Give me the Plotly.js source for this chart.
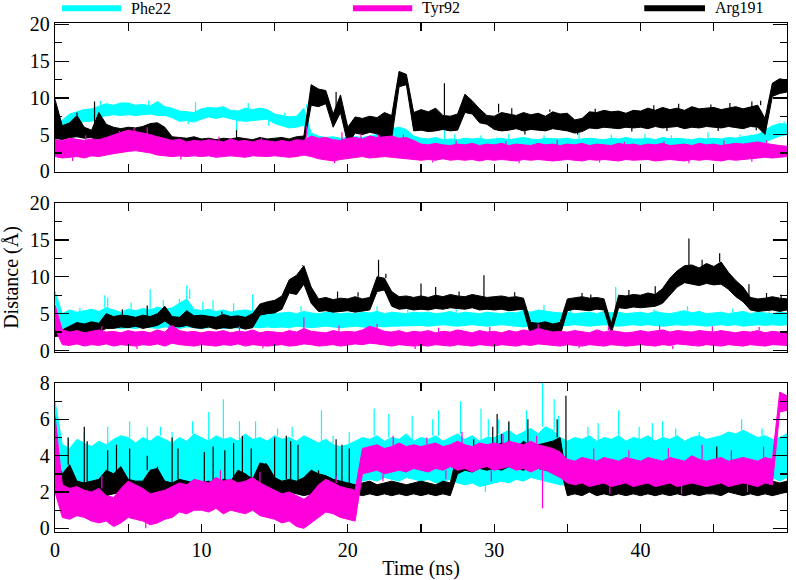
<!DOCTYPE html>
<html>
<head>
<meta charset="utf-8">
<script src="https://cdn.plot.ly/plotly-3.0.1.min.js"></script>
<style>html,body{margin:0;padding:0;background:#fff;}#chart{width:796px;height:580px;}</style>
</head>
<body>
<div id="chart"></div>
<script>
// ---- data: fluctuation envelope (low / high) every 0.5 ns, 0..50 ns, plus isolated spikes ----
var timeStep = 0.5;
var seriesNames = ["Phe22", "Tyr92", "Arg191"];
var xTickVals = [0, 5, 10, 15, 20, 25, 30, 35, 40, 45, 50];
var xTickText = ["0", "", "10", "", "20", "", "30", "", "40", "", "50"];

// ===== Panel 1 (top) =====
var p1_phe_lo = [4.2,5.0,6.0,6.4,6.8,6.8,7.4,7.6,7.7,7.6, 7.7,7.6,7.7,7.8,7.6,7.6,7.3,6.8,6.9,6.7,
 7.1,7.4,7.2,7.4,7.2,6.9,6.8,6.9,7.0,7.1, 6.5,6.2,5.9,6.0,6.3,3.9,3.6,3.5,3.4,3.5,
 3.4,3.5,3.4,3.6,3.7,3.8,3.9,4.2,4.1,3.4, 3.2,3.2,3.1,3.2,3.2,3.1,3.2,3.1,3.2,3.1,
 3.2,3.1,3.1,3.2,3.2,3.1,3.1,3.2,3.1,3.2, 3.1,3.1,3.2,3.1,3.2,3.1,3.2,3.2,3.1,3.1,
 3.2,3.1,3.2,3.1,3.2,3.2,3.1,3.2,3.1,3.2, 3.2,3.1,3.2,3.3,3.2,3.3,3.5,3.9,4.4,4.8, 5.0];
var p1_phe_hi = [5.8,7.0,7.8,8.1,8.4,8.5,8.8,9.2,9.0,9.3, 9.3,9.0,9.1,8.9,9.5,8.8,8.6,8.2,8.1,8.0,
 8.5,8.7,8.6,8.8,8.3,8.2,8.6,8.4,8.6,8.4, 7.8,7.6,7.4,7.5,8.6,5.2,4.8,4.6,4.7,4.5,
 4.6,4.7,4.6,4.8,5.0,5.2,5.8,6.0,5.7,4.8, 4.5,4.4,4.6,4.3,4.4,4.3,4.5,4.4,4.5,4.3,
 4.4,4.5,4.3,4.4,4.6,4.4,4.3,4.5,4.4,4.4, 4.5,4.3,4.4,4.5,4.4,4.3,4.5,4.4,4.6,4.4,
 4.4,4.5,4.3,4.6,4.4,4.5,4.4,4.3,4.5,4.4, 4.5,4.4,4.6,4.5,4.7,4.8,5.0,5.6,6.2,6.5, 6.4];
var p1_phe_spkT = [1.9,3.1,6.4,9.1,9.6,12.4,13.2,14.6,15.7,16.1,17.2,26.6,27.3,28.2,29.1,31.0,33.4,34.6,35.8,38.0,
 40.3,41.0,42.1,44.6,46.8,47.2,49.8];
var p1_phe_spkV = [8.4,9.6,9.6,6.4,9.4,5.6,9.3,6.2,8.0,5.9,9.2,6.4,5.0,3.0,4.9,5.1,4.9,2.9,5.2,5.0,
 5.1,3.0,4.9,5.3,5.0,3.1,6.8];

var p1_tyr_lo = [2.0,1.8,1.9,2.0,1.8,2.1,2.0,2.2,2.4,2.6, 2.7,2.8,2.6,2.5,2.2,2.1,2.0,2.1,2.0,2.1,
 2.0,2.1,1.9,2.0,2.1,2.0,1.9,2.1,2.0,2.0, 2.1,2.0,1.9,2.0,2.2,2.0,1.7,1.5,1.4,1.6,
 1.8,1.9,2.0,1.8,1.9,2.0,1.9,1.8,1.7,1.6, 1.5,1.6,1.5,1.7,1.5,1.6,1.5,1.6,1.4,1.6,
 1.5,1.6,1.5,1.4,1.6,1.5,1.6,1.5,1.4,1.5, 1.6,1.5,1.4,1.6,1.5,1.6,1.5,1.4,1.6,1.5,
 1.5,1.6,1.4,1.5,1.6,1.5,1.4,1.6,1.5,1.6, 1.5,1.4,1.6,1.5,1.6,1.7,1.8,1.9,1.8,1.9, 2.0];
var p1_tyr_hi = [4.3,4.2,4.5,4.3,4.2,4.4,4.3,4.6,5.0,5.3, 5.6,5.4,5.3,5.0,4.7,4.5,4.2,4.4,4.0,4.2,
 4.1,4.3,4.2,4.0,4.4,4.1,4.2,4.0,4.3,4.1, 4.0,4.2,4.0,4.3,4.2,4.8,4.5,4.6,4.3,4.2,
 4.5,4.6,4.4,4.8,4.6,4.7,4.8,4.5,4.6,4.2, 3.7,3.6,3.8,3.6,3.5,3.7,3.6,3.8,3.5,3.7,
 3.6,3.8,3.5,3.7,3.6,3.5,3.8,3.6,3.7,3.5, 3.7,3.6,3.8,3.5,3.7,3.6,3.5,3.8,3.6,3.7,
 3.5,3.7,3.6,3.8,3.5,3.6,3.7,3.5,3.8,3.6, 3.7,3.5,3.6,3.8,3.7,3.9,4.0,3.8,3.6,3.5, 3.4];
var p1_tyr_spkT = [1.2,2.1,4.4,5.4,6.3,8.6,11.2,14.1,17.2,19.1,19.6,20.9,22.1,23.8,25.8,27.4,30.8,31.7,34.3,37.2,
 38.9,41.6,43.3,45.7,47.6,48.6];
var p1_tyr_spkV = [1.4,4.9,5.5,5.9,6.0,1.6,4.7,4.6,6.2,1.1,5.3,5.1,5.0,5.0,1.2,4.2,4.1,1.1,4.3,1.2,
 4.0,4.1,1.1,4.2,1.3,4.2];

var p1_arg_lo = [4.5,4.3,4.6,4.7,4.5,4.6,3.9,4.7,4.2,4.0, 4.1,4.0,4.2,4.3,4.4,4.6,3.5,3.4,3.5,3.4,
 3.3,3.4,3.3,3.4,3.3,3.5,3.4,3.3,3.5,3.4, 3.4,3.5,3.4,3.5,3.6,9.0,8.8,9.2,6.0,8.0,
 3.7,5.2,5.0,5.3,5.1,4.2,4.5,11.5,11.8,5.5, 5.6,5.4,5.5,5.7,5.5,5.6,8.0,7.8,6.6,6.4,
 5.7,5.5,5.6,5.8,5.5,5.7,5.6,5.5,5.8,5.6, 5.5,5.2,5.4,5.9,5.8,6.0,5.9,5.8,6.0,5.9,
 6.0,5.8,6.1,5.9,6.0,6.1,5.8,6.0,5.9,6.1, 6.0,5.9,6.1,6.0,5.8,6.1,6.0,5.0,10.2,10.6, 10.8];
var p1_arg_hi = [9.8,6.2,6.6,7.6,6.0,5.6,8.0,6.4,6.0,5.8, 6.0,5.9,6.1,6.5,6.6,6.0,4.7,4.6,4.5,4.7,
 4.4,4.5,4.3,4.5,4.4,4.6,4.5,4.3,4.6,4.4, 4.5,4.6,4.4,4.7,4.8,11.8,11.2,11.0,7.8,10.4,
 6.0,7.4,7.2,7.5,7.3,8.0,7.6,13.6,13.2,8.0, 8.4,8.1,8.6,7.6,7.5,7.8,10.5,9.6,8.5,7.6,
 7.5,8.0,7.8,7.6,8.0,7.7,7.9,7.5,8.1,7.8, 7.9,7.0,7.2,8.1,8.0,8.3,8.1,8.2,7.9,8.3,
 8.2,8.6,8.3,8.7,8.4,8.6,8.3,8.8,8.5,8.6, 8.7,8.4,8.6,8.8,8.5,8.7,9.0,7.2,12.0,12.6, 12.4];
var p1_arg_spkT = [1.5,2.7,12.4,19.2,22.7,26.6,30.3,31.2,32.1,33.8,35.7,36.9,39.4,40.9,41.8,42.6,44.8,45.3,46.1,47.6,
 47.9,48.2];
var p1_arg_spkV = [8.0,9.5,5.6,10.8,4.0,12.0,9.2,8.6,5.0,8.4,5.0,8.5,5.4,9.0,5.5,9.2,9.1,5.5,9.3,9.5,
 5.6,9.6];

// ===== Panel 2 (middle) =====
var p2_phe_lo = [6.8,3.0,3.1,3.0,3.2,3.1,3.0,3.2,3.1,3.0, 3.1,3.0,3.2,3.1,3.0,3.2,3.1,3.0,3.2,3.1,
 3.0,3.1,3.2,3.0,3.1,3.1,3.0,3.2,3.1,3.2, 3.1,3.2,3.1,3.3,3.2,3.1,3.2,3.3,3.2,3.1,
 3.2,3.3,3.2,3.1,3.3,3.2,3.3,3.4,3.3,3.4, 3.4,3.3,3.4,3.5,3.4,3.3,3.4,3.5,3.4,3.3,
 3.4,3.5,3.4,3.3,3.2,3.3,3.2,3.1,3.2,3.3, 3.4,3.5,3.4,3.3,3.4,3.5,3.4,3.3,3.4,3.5,
 3.4,3.5,3.4,3.3,3.4,3.5,3.4,3.5,3.4,3.3, 3.4,3.5,3.4,3.5,3.3,3.4,3.5,3.4,3.5,3.4, 3.5];
var p2_phe_hi = [8.0,5.0,5.5,5.2,5.4,5.6,5.3,5.8,5.5,5.2, 5.6,5.4,5.7,5.5,5.9,5.6,5.8,6.4,7.0,5.6,
 5.4,5.6,5.3,5.5,5.2,5.4,5.5,5.3,5.8,5.2, 5.0,5.1,5.2,5.0,5.3,5.1,5.0,5.2,5.1,5.0,
 5.1,5.0,5.2,5.1,5.3,5.0,5.2,5.1,5.0,5.2, 5.1,5.2,5.0,5.1,5.3,5.0,5.2,5.1,5.0,5.2,
 5.1,5.0,5.2,5.1,5.4,5.2,5.5,5.3,5.2,5.1, 5.2,5.0,5.1,5.2,5.0,5.3,5.1,5.2,5.0,5.1,
 5.2,5.0,5.3,5.1,5.0,5.2,5.4,5.1,5.3,5.0, 5.1,5.2,5.0,5.1,5.3,5.0,5.2,5.1,5.0,5.2, 5.1];
var p2_phe_spkT = [1.7,3.4,3.6,5.2,6.5,7.4,8.5,9.0,9.2,10.1,10.8,12.2,13.5,16.8,22.0,24.1,27.4,31.9,33.4,35.2,
 38.3,40.9,43.2,46.3,48.8];
var p2_phe_spkV = [5.8,7.5,7.2,6.5,8.3,6.8,7.0,8.8,8.3,6.6,6.8,6.4,7.6,6.0,6.0,5.6,5.8,5.8,6.2,5.7,
 8.6,5.6,6.0,5.7,5.8];

var p2_tyr_lo = [3.0,0.8,0.7,0.9,0.6,0.8,0.7,0.9,0.6,0.8, 0.7,0.6,0.8,0.7,0.9,0.6,1.0,0.8,0.7,0.6,
 0.8,0.7,0.6,0.8,0.7,0.9,0.6,0.8,0.7,0.6, 0.7,0.8,0.6,0.7,0.9,0.8,0.6,0.7,0.8,0.6,
 0.7,0.9,0.8,1.0,0.9,0.7,0.6,0.8,0.7,0.6, 0.7,0.6,0.8,0.7,0.6,0.8,0.7,0.6,0.8,0.7,
 0.6,0.8,0.7,0.6,0.8,0.7,0.9,0.8,0.7,0.6, 0.8,0.7,0.6,0.8,0.7,0.6,0.8,0.7,0.6,0.7,
 0.8,0.7,0.6,0.8,0.7,0.9,0.8,0.7,0.6,0.8, 0.7,0.6,0.8,0.7,0.6,0.8,0.7,0.6,0.8,0.7, 0.7];
var p2_tyr_hi = [6.2,2.8,2.5,2.7,2.4,2.6,2.8,2.5,2.6,2.4, 2.7,2.5,2.6,2.4,2.8,2.5,3.4,2.7,2.5,2.6,
 2.4,2.6,2.5,2.7,2.4,2.6,2.5,2.8,2.4,2.6, 2.5,2.4,2.7,2.5,3.0,2.6,2.5,2.4,2.7,2.5,
 2.6,2.5,2.8,3.3,3.0,2.6,2.5,2.7,2.4,2.6, 2.5,2.7,2.4,2.6,2.5,2.8,2.6,2.4,2.7,2.5,
 2.6,2.4,2.7,2.5,2.8,2.6,3.0,2.7,2.5,2.6, 2.5,2.7,2.6,2.4,2.8,2.5,2.7,2.6,2.4,2.5,
 2.7,2.5,2.6,2.8,2.5,2.7,2.6,2.5,2.7,2.6, 2.5,2.7,2.6,2.4,2.6,2.5,2.7,2.4,2.6,2.5, 2.4];
var p2_tyr_spkT = [3.2,5.6,7.8,12.6,14.2,17.0,19.4,22.0,24.6,26.2,29.7,33.0,35.8,37.8,41.3,42.2,44.9,48.1];
var p2_tyr_spkV = [3.3,0.2,3.4,3.3,0.3,4.5,3.4,3.6,0.2,3.1,3.2,3.6,0.3,3.3,3.4,0.2,3.3,3.2];

var p2_arg_lo = [1.9,2.0,2.2,2.3,2.4,2.2,2.5,3.0,3.0,3.2, 3.1,3.3,3.0,3.2,3.4,4.0,3.3,3.2,3.4,3.1,
 3.0,3.2,2.9,3.1,3.0,3.2,2.9,3.1,4.8,5.0, 5.1,5.6,7.8,7.6,9.0,6.4,5.3,5.4,5.2,5.3,
 5.4,5.2,5.3,5.5,8.0,8.2,6.0,5.6,5.7,5.5, 5.6,5.5,5.7,5.6,5.8,5.7,5.6,5.8,5.5,5.6,
 5.5,5.6,5.4,5.5,5.6,2.0,2.1,2.0,2.2,2.0, 5.4,5.6,5.5,5.4,5.6,5.5,2.3,5.8,5.7,5.9,
 5.8,5.9,6.0,6.4,7.5,8.6,9.2,9.0,8.8,9.1, 8.9,9.0,8.3,7.3,6.6,5.5,5.3,5.4,5.5,5.3, 5.5];
var p2_arg_hi = [3.0,2.8,3.3,3.8,3.6,3.9,3.7,5.0,4.6,4.8, 4.7,4.5,4.8,4.6,5.0,6.0,4.6,4.5,5.4,4.7,
 4.8,4.6,4.5,4.9,4.6,4.7,4.5,5.0,6.3,6.6, 6.8,7.4,9.6,10.2,11.5,8.6,7.0,7.2,6.9,7.1,
 7.0,7.3,7.0,7.2,10.0,9.8,8.0,7.3,7.4,7.2, 7.4,7.2,7.5,7.3,7.6,7.4,7.3,7.6,7.4,7.2,
 7.3,7.4,7.2,7.3,7.1,3.8,3.7,3.9,3.6,3.8, 7.0,7.2,7.3,7.1,7.2,7.0,3.6,7.5,7.4,7.6,
 7.5,7.8,7.6,8.4,9.8,10.8,11.5,11.6,11.2,11.8, 11.4,12.0,10.6,9.5,8.6,7.2,7.0,7.1,7.3,7.1, 7.0];
var p2_arg_spkT = [4.6,6.3,11.4,16.9,19.3,20.7,22.1,22.6,25.0,26.0,27.6,29.3,31.4,36.0,36.6,39.2,41.0,43.3,44.2,45.4,
 47.4,48.6,49.6];
var p2_arg_spkV = [5.6,6.1,5.3,11.6,8.0,7.9,12.3,10.4,9.1,8.6,8.0,10.2,7.9,7.8,7.6,8.2,8.7,15.2,12.3,13.2,
 9.0,7.8,7.6];

// ===== Panel 3 (bottom) =====
var p3_phe_lo = [2.8,2.3,2.2,2.4,2.3,2.2,2.4,2.3,2.2,2.3, 2.2,2.3,2.4,2.2,2.3,2.2,2.4,2.3,2.2,2.3,
 2.3,2.2,2.4,2.3,2.2,2.3,2.2,2.4,2.3,2.2, 2.3,2.2,2.4,2.3,2.2,2.3,2.4,2.2,2.3,2.2,
 2.3,2.4,2.6,2.7,2.6,2.8,2.7,2.6,2.8,2.7, 2.6,2.7,2.5,2.6,2.7,2.5,2.4,2.5,2.3,2.4,
 2.5,2.6,2.5,2.7,2.6,2.8,2.7,2.6,2.5,2.4, 2.4,2.5,2.4,2.6,2.5,2.4,2.6,2.5,2.4,2.5,
 2.5,2.4,2.6,2.5,2.4,2.5,2.6,2.4,2.5,2.6, 2.7,2.8,3.0,3.3,3.5,3.4,3.1,2.9,2.8,2.6, 2.8];
var p3_phe_hi = [7.0,4.6,4.4,4.9,4.7,4.5,4.8,4.6,4.9,5.1, 5.0,4.7,5.0,4.8,5.1,4.9,4.7,5.0,4.8,5.2,
 5.0,4.8,5.1,4.9,5.0,4.8,5.2,4.9,5.0,4.8, 5.1,4.9,5.0,4.8,5.1,4.9,4.7,4.9,4.6,4.5,
 4.6,4.8,5.0,4.9,5.1,4.8,5.0,4.9,5.2,4.8, 5.0,4.9,5.1,4.8,5.0,5.2,4.9,5.1,4.8,5.0,
 5.0,5.2,5.4,5.1,5.3,5.5,5.2,5.6,5.4,5.0, 4.8,5.0,4.9,5.1,4.8,5.0,4.9,5.1,4.8,5.0,
 4.9,5.1,4.8,5.0,4.9,5.1,4.8,5.0,5.1,4.9, 5.0,5.1,5.3,5.2,5.4,5.2,5.0,5.1,4.9,5.0, 5.2];
var p3_phe_spkT = [0.9,2.0,3.6,5.1,6.3,7.2,8.0,9.4,9.8,10.5,11.5,12.6,13.7,15.2,16.2,17.3,18.2,19.0,20.1,21.8,
 22.8,24.4,25.8,26.2,27.7,29.1,29.4,29.6,30.3,31.0,32.2,33.3,34.1,34.4,36.4,37.1,38.5,39.9,40.8,41.5,
 42.4,43.6,44.0,46.9,48.3];
var p3_phe_spkV = [5.0,5.3,5.6,5.9,5.6,5.6,5.3,5.9,1.9,6.4,7.1,5.9,5.9,5.5,5.6,2.0,6.5,5.1,5.3,6.6,
 6.3,6.2,6.0,6.5,7.0,6.6,2.0,6.0,6.0,5.8,6.5,8.0,7.1,6.2,5.6,5.8,6.5,5.6,5.8,5.9,
 5.5,2.1,5.3,6.0,5.5];

var p3_tyr_lo = [2.0,0.6,0.5,0.7,0.6,0.4,0.3,0.4,0.1,0.3, 0.6,0.5,0.4,0.2,0.3,0.5,0.6,0.9,0.8,1.0,
 1.0,0.9,1.1,0.8,1.0,0.9,0.8,1.0,0.7,0.6, 0.5,0.3,0.4,0.1,0.0,0.3,0.6,0.9,0.8,0.6,
 0.5,0.4,3.0,3.1,3.2,3.0,3.1,3.2,3.1,3.3, 3.2,3.1,3.3,3.2,3.4,3.2,3.3,3.1,3.3,3.4,
 3.2,3.3,3.4,3.2,3.3,3.1,3.3,3.2,3.0,2.8, 2.5,2.4,2.5,2.3,2.4,2.5,2.3,2.4,2.5,2.3,
 2.4,2.5,2.3,2.4,2.5,2.3,2.4,2.5,2.4,2.3, 2.4,2.5,2.3,2.4,2.5,2.4,2.3,2.5,2.4,6.4, 6.5];
var p3_tyr_hi = [6.2,2.4,2.2,2.3,2.1,2.0,2.2,1.8,1.7,2.2, 2.6,2.4,2.2,1.9,2.0,2.1,2.3,2.5,2.4,2.7,
 2.6,2.5,2.8,2.6,2.7,2.5,2.6,2.8,2.5,2.3, 2.1,1.9,2.0,1.8,1.6,1.9,2.4,2.7,2.5,2.3,
 2.2,2.1,4.4,4.5,4.6,4.4,4.5,4.7,4.5,4.6, 4.5,4.6,4.7,4.5,4.6,4.8,4.6,4.5,4.7,4.6,
 4.7,4.6,4.8,4.7,4.6,4.8,4.6,4.5,4.4,4.2, 3.8,3.7,3.9,3.8,3.7,3.9,3.8,3.7,3.9,3.8,
 3.7,3.9,3.8,3.7,3.9,3.8,3.7,4.0,3.8,3.7, 3.8,3.9,3.7,3.8,3.9,3.8,3.7,3.9,3.8,7.5, 7.3];
var p3_tyr_spkT = [3.2,6.2,11.3,14.0,19.2,22.4,23.1,25.4,26.7,27.8,29.8,30.6,32.9,33.3,36.8,37.9,39.2,41.9,42.8,44.2,
 46.2,47.3,48.4];
var p3_tyr_spkV = [2.9,0.0,3.2,3.1,2.9,2.6,5.1,5.0,2.7,5.3,2.6,5.2,5.1,1.1,4.4,1.9,4.3,4.4,1.9,4.6,
 4.3,2.0,4.5];

var p3_arg_lo = [2.0,1.9,1.8,1.9,2.0,1.8,1.9,1.8,1.9,2.0, 1.8,1.9,2.0,1.8,1.9,1.8,1.9,2.0,1.8,1.9,
 1.8,1.9,2.0,1.8,1.9,1.8,1.9,2.0,1.8,1.9, 1.9,1.8,2.0,1.9,1.8,1.9,2.0,1.8,1.9,2.0,
 1.8,1.9,1.8,1.9,1.8,1.9,1.8,1.9,1.8,1.9, 1.8,1.9,1.8,1.9,1.8,3.0,3.2,3.1,3.3,3.2,
 3.3,3.2,3.4,3.3,3.2,3.4,3.3,3.2,3.3,3.4, 1.8,1.9,1.8,2.0,1.8,1.9,1.8,1.9,1.8,1.9,
 1.8,1.9,1.8,1.9,1.8,1.9,1.8,1.9,1.8,1.9, 1.9,1.8,2.0,1.9,1.8,1.9,1.8,1.9,1.8,1.9, 2.0];
var p3_arg_hi = [3.8,3.0,3.5,2.6,2.5,2.6,2.7,3.2,3.0,3.4, 2.7,2.6,2.6,3.2,3.3,2.6,2.5,2.7,2.6,2.5,
 2.5,2.6,2.4,2.7,2.6,3.2,3.0,2.7,3.6,3.5, 2.8,2.6,2.7,2.6,2.8,3.2,3.0,2.9,2.7,2.6,
 2.5,2.4,2.5,2.6,2.4,2.5,2.6,2.5,2.4,2.5, 2.6,2.5,2.4,2.6,2.5,4.2,4.4,4.3,4.5,4.6,
 4.5,4.7,4.6,4.4,4.8,4.5,4.6,4.7,4.8,5.0, 2.6,2.5,2.6,2.5,2.4,2.6,2.5,2.4,2.6,2.5,
 2.6,2.5,2.7,2.6,2.5,2.6,2.7,2.5,2.6,2.5, 2.7,2.8,2.6,3.0,2.8,2.6,2.5,2.7,2.6,2.5, 2.6];
var p3_arg_spkT = [0.9,2.0,2.2,3.6,4.2,5.1,6.3,7.0,8.0,8.4,10.2,10.8,11.6,12.2,12.8,13.4,14.4,15.0,15.8,16.1,
 16.6,18.0,19.2,19.6,20.1,28.6,29.9,30.2,30.5,31.0,32.3,33.9,34.3,34.9,42.6,45.2,46.4];
var p3_arg_spkV = [5.0,5.6,4.8,4.3,4.6,4.4,4.0,3.4,5.0,4.4,4.2,4.5,4.3,4.7,5.1,4.4,3.6,5.0,5.1,4.8,
 4.6,3.2,4.9,4.6,4.4,4.9,5.6,6.3,5.2,5.9,6.0,4.8,6.0,7.3,2.8,4.5,3.0];

// ---- build traces ----
var colors = ["#00ffff", "#ff00dd", "#000000"];

function seriesTraces(lo, hi, spkT, spkV, color, xa, ya) {
  var t = lo.map(function (_, i) { return i * timeStep; });
  var band = {
    type: "scatter", mode: "lines", xaxis: xa, yaxis: ya, hoverinfo: "skip", showlegend: false,
    x: t.concat(t.slice().reverse()), y: hi.concat(lo.slice().reverse()),
    fill: "toself", fillcolor: color, line: { color: color, width: 1 }
  };
  var sx = [], sy = [];
  spkT.forEach(function (ts, k) {
    var idx = Math.min(hi.length - 1, Math.round(ts / timeStep));
    var base = spkV[k] > hi[idx] ? hi[idx] : lo[idx];
    sx.push(ts, ts, null); sy.push(base, spkV[k], null);
  });
  var spikes = {
    type: "scatter", mode: "lines", xaxis: xa, yaxis: ya, hoverinfo: "skip", showlegend: false,
    x: sx, y: sy, line: { color: color, width: 1.2 }
  };
  return [band, spikes];
}

var traces = [];
// drawing order: Phe22 (cyan), Arg191 (black), Tyr92 (magenta)
[
  [p1_phe_lo, p1_phe_hi, p1_phe_spkT, p1_phe_spkV, 0, "x3", "y3"],
  [p1_arg_lo, p1_arg_hi, p1_arg_spkT, p1_arg_spkV, 2, "x3", "y3"],
  [p1_tyr_lo, p1_tyr_hi, p1_tyr_spkT, p1_tyr_spkV, 1, "x3", "y3"],
  [p2_phe_lo, p2_phe_hi, p2_phe_spkT, p2_phe_spkV, 0, "x2", "y2"],
  [p2_arg_lo, p2_arg_hi, p2_arg_spkT, p2_arg_spkV, 2, "x2", "y2"],
  [p2_tyr_lo, p2_tyr_hi, p2_tyr_spkT, p2_tyr_spkV, 1, "x2", "y2"],
  [p3_phe_lo, p3_phe_hi, p3_phe_spkT, p3_phe_spkV, 0, "x", "y"],
  [p3_arg_lo, p3_arg_hi, p3_arg_spkT, p3_arg_spkV, 2, "x", "y"],
  [p3_tyr_lo, p3_tyr_hi, p3_tyr_spkT, p3_tyr_spkV, 1, "x", "y"]
].forEach(function (s) {
  traces = traces.concat(seriesTraces(s[0], s[1], s[2], s[3], colors[s[4]], s[5], s[6]));
});

var FONT = "Liberation Serif, Times New Roman, serif";
function xAxis(anchor, labels) {
  return {
    anchor: anchor, range: [0, 50], tickvals: xTickVals, ticktext: xTickText,
    showticklabels: labels, ticks: "inside", ticklen: 8, tickwidth: 1.3, tickcolor: "#000",
    mirror: "ticks", showline: true, linecolor: "#000", linewidth: 1.3,
    showgrid: false, zeroline: false, tickfont: { family: FONT, size: 20, color: "#000" }
  };
}
function yAxis(anchor, domain, range, dtick, minorDtick) {
  return {
    anchor: anchor, domain: domain, range: range, dtick: dtick, tick0: 0,
    ticks: "inside", ticklen: 14, tickwidth: 1.3, tickcolor: "#000",
    minor: { dtick: minorDtick, tick0: 0, ticks: "inside", ticklen: 7, tickwidth: 1.3, tickcolor: "#000", showgrid: false },
    mirror: "ticks", showline: true, linecolor: "#000", linewidth: 1.3,
    showgrid: false, zeroline: false, tickfont: { family: FONT, size: 20, color: "#000" }
  };
}

var layout = {
  width: 796, height: 580,
  margin: { l: 55, r: 9, t: 23, b: 48 },
  paper_bgcolor: "#fff", plot_bgcolor: "#fff",
  showlegend: false,
  xaxis: Object.assign(xAxis("y", true), { title: { text: "Time (ns)", font: { family: FONT, size: 20, color: "#000" }, standoff: 2 } }),
  xaxis2: xAxis("y2", false),
  xaxis3: xAxis("y3", false),
  yaxis: yAxis("x", [0, 0.2927], [-0.2, 8], 2, 1),
  yaxis2: Object.assign(yAxis("x2", [0.3536, 0.6464], [-0.2, 20], 5, 2.5),
    { title: { text: "Distance (Å)", font: { family: FONT, size: 20, color: "#000" }, standoff: 6 } }),
  yaxis3: yAxis("x3", [0.7073, 1], [-0.1, 20.2], 5, 2.5),
  shapes: [], annotations: []
};

// legend across the top
var legendBars = [[0.0096, 0.0902], [0.407, 0.488], [0.805, 0.888]];
seriesNames.forEach(function (n, i) {
  layout.shapes.push({ type: "line", xref: "paper", yref: "paper",
    x0: legendBars[i][0], x1: legendBars[i][1], y0: 1.029, y1: 1.029,
    line: { color: colors[i], width: 6 } });
  layout.annotations.push({ text: n, xref: "paper", yref: "paper",
    x: legendBars[i][1] + 0.011, y: 1.029, xanchor: "left", yanchor: "middle",
    showarrow: false, font: { family: FONT, size: 16, color: "#000" } });
});

Plotly.newPlot("chart", traces, layout, { staticPlot: true, displayModeBar: false });
</script>
</body>
</html>
